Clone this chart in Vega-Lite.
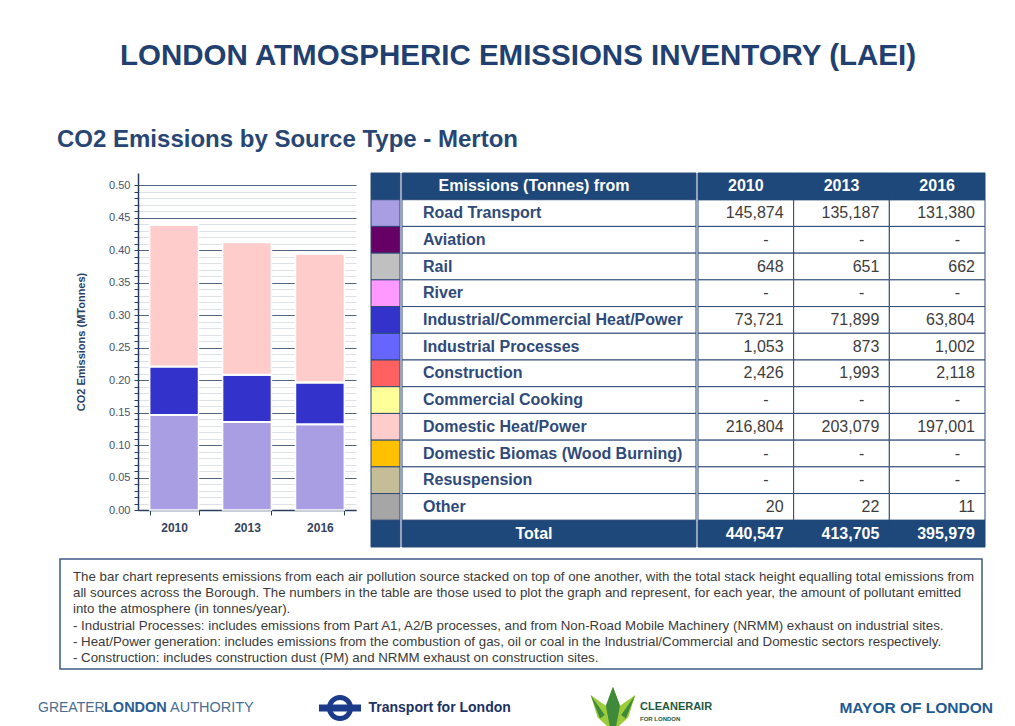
{
  "$schema": "https://vega.github.io/schema/vega-lite/v6.json",
  "background": "white",
  "padding": {"left": 38, "top": 41, "right": 0, "bottom": 0},
  "config": {"view": {"stroke": null}, "font": "Liberation Sans"},
  "title": {"text": "LONDON ATMOSPHERIC EMISSIONS INVENTORY (LAEI)", "fontSize": 29.5, "fontWeight": "bold", "color": "#1f4070", "anchor": "middle", "offset": 56, "font": "Liberation Sans"},
  "spacing": 10,
  "datasets": {
    "emissions": [
      {"source": "Road Transport", "year": "2010", "tonnes": 145874},
      {"source": "Road Transport", "year": "2013", "tonnes": 135187},
      {"source": "Road Transport", "year": "2016", "tonnes": 131380},
      {"source": "Aviation", "year": "2010", "tonnes": null},
      {"source": "Aviation", "year": "2013", "tonnes": null},
      {"source": "Aviation", "year": "2016", "tonnes": null},
      {"source": "Rail", "year": "2010", "tonnes": 648},
      {"source": "Rail", "year": "2013", "tonnes": 651},
      {"source": "Rail", "year": "2016", "tonnes": 662},
      {"source": "River", "year": "2010", "tonnes": null},
      {"source": "River", "year": "2013", "tonnes": null},
      {"source": "River", "year": "2016", "tonnes": null},
      {"source": "Industrial/Commercial Heat/Power", "year": "2010", "tonnes": 73721},
      {"source": "Industrial/Commercial Heat/Power", "year": "2013", "tonnes": 71899},
      {"source": "Industrial/Commercial Heat/Power", "year": "2016", "tonnes": 63804},
      {"source": "Industrial Processes", "year": "2010", "tonnes": 1053},
      {"source": "Industrial Processes", "year": "2013", "tonnes": 873},
      {"source": "Industrial Processes", "year": "2016", "tonnes": 1002},
      {"source": "Construction", "year": "2010", "tonnes": 2426},
      {"source": "Construction", "year": "2013", "tonnes": 1993},
      {"source": "Construction", "year": "2016", "tonnes": 2118},
      {"source": "Commercial Cooking", "year": "2010", "tonnes": null},
      {"source": "Commercial Cooking", "year": "2013", "tonnes": null},
      {"source": "Commercial Cooking", "year": "2016", "tonnes": null},
      {"source": "Domestic Heat/Power", "year": "2010", "tonnes": 216804},
      {"source": "Domestic Heat/Power", "year": "2013", "tonnes": 203079},
      {"source": "Domestic Heat/Power", "year": "2016", "tonnes": 197001},
      {"source": "Domestic Biomas (Wood Burning)", "year": "2010", "tonnes": null},
      {"source": "Domestic Biomas (Wood Burning)", "year": "2013", "tonnes": null},
      {"source": "Domestic Biomas (Wood Burning)", "year": "2016", "tonnes": null},
      {"source": "Resuspension", "year": "2010", "tonnes": null},
      {"source": "Resuspension", "year": "2013", "tonnes": null},
      {"source": "Resuspension", "year": "2016", "tonnes": null},
      {"source": "Other", "year": "2010", "tonnes": 20},
      {"source": "Other", "year": "2013", "tonnes": 22},
      {"source": "Other", "year": "2016", "tonnes": 11}
    ],
    "totals": [
      {"year": "2010", "tonnes": 440547},
      {"year": "2013", "tonnes": 413705},
      {"year": "2016", "tonnes": 395979}
    ],
    "rows": [
      {"row": "Emissions (Tonnes) from", "kind": "header"},
      {"row": "Road Transport", "kind": "source"},
      {"row": "Aviation", "kind": "source"},
      {"row": "Rail", "kind": "source"},
      {"row": "River", "kind": "source"},
      {"row": "Industrial/Commercial Heat/Power", "kind": "source"},
      {"row": "Industrial Processes", "kind": "source"},
      {"row": "Construction", "kind": "source"},
      {"row": "Commercial Cooking", "kind": "source"},
      {"row": "Domestic Heat/Power", "kind": "source"},
      {"row": "Domestic Biomas (Wood Burning)", "kind": "source"},
      {"row": "Resuspension", "kind": "source"},
      {"row": "Other", "kind": "source"},
      {"row": "Total", "kind": "total"}
    ],
    "notes": [
      {"line": 1, "text": "The bar chart represents emissions from each air pollution source stacked on top of one another, with the total stack height equalling total emissions from"},
      {"line": 2, "text": "all sources across the Borough. The numbers in the table are those used to plot the graph and represent, for each year, the amount of pollutant emitted"},
      {"line": 3, "text": "into the atmosphere (in tonnes/year)."},
      {"line": 4, "text": " - Industrial Processes:  includes emissions from Part A1, A2/B processes, and from Non-Road Mobile Machinery (NRMM) exhaust on industrial sites."},
      {"line": 5, "text": " - Heat/Power generation: includes emissions from the combustion of gas, oil or coal in the Industrial/Commercial and Domestic sectors respectively."},
      {"line": 6, "text": " - Construction: includes construction dust (PM) and NRMM exhaust on construction sites."}
    ],
    "orgs": [
      {"org": "GLA"},
      {"org": "TfL"},
      {"org": "CleanAir"},
      {"org": "Mayor"}
    ],
    "empty": []
  },
  "vconcat": [
    {
      "title": {"text": "CO2 Emissions by Source Type - Merton", "anchor": "start", "fontSize": 24, "fontWeight": "bold", "color": "#274674", "offset": 21, "dx": -3, "font": "Liberation Sans"},
      "spacing": 14,
      "resolve": {"scale": {"x": "independent", "y": "independent", "color": "independent", "fill": "independent"}},
      "hconcat": [
        {
          "width": 1,
          "height": 337,
          "data": {"name": "empty"},
          "mark": {"type": "point"},
          "encoding": {}
        },
        {
          "width": 218,
          "height": 337,
          "data": {"name": "emissions"},
          "mark": {"type": "bar", "stroke": "white", "strokeWidth": 1.5},
          "encoding": {
            "x": {"field": "year", "type": "nominal", "scale": {"paddingInner": 0.33, "paddingOuter": 0.16},
              "axis": {"title": null, "labelAngle": 0, "labelFontSize": 12, "labelFontWeight": "bold", "labelColor": "#34445f", "tickBand": "extent", "tickSize": 5, "tickColor": "#2c3e5e", "domainColor": "#2c3e5e", "domainWidth": 1.5, "labelPadding": 7}},
            "y": {"field": "tonnes", "type": "quantitative", "stack": "zero", "scale": {"domain": [0, 518500], "nice": false},
              "axis": {"title": "CO2 Emissions (MTonnes)", "titleFontSize": 11, "titleFontWeight": "bold", "titleColor": "#2b3f66", "titlePadding": 22,
                "values": [0, 10000, 20000, 30000, 40000, 50000, 60000, 70000, 80000, 90000, 100000, 110000, 120000, 130000, 140000, 150000, 160000, 170000, 180000, 190000, 200000, 210000, 220000, 230000, 240000, 250000, 260000, 270000, 280000, 290000, 300000, 310000, 320000, 330000, 340000, 350000, 360000, 370000, 380000, 390000, 400000, 410000, 420000, 430000, 440000, 450000, 460000, 470000, 480000, 490000, 500000],
                "labelExpr": "datum.value % 50000 === 0 ? format(datum.value / 1000000, '.2f') : ''",
                "labelOverlap": false, "labelFontSize": 11, "labelColor": "#44536d", "labelPadding": 4,
                "tickSize": 4, "tickColor": "#2c3e5e", "domainColor": "#2c3e5e", "domainWidth": 1.5,
                "grid": true, "gridWidth": 1,
                "gridColor": {"condition": {"test": "datum.value % 50000 === 0", "value": "#52657f"}, "value": "#dde2e9"}}},
            "color": {"field": "source", "type": "nominal",
              "sort": ["Road Transport", "Aviation", "Rail", "River", "Industrial/Commercial Heat/Power", "Industrial Processes", "Construction", "Commercial Cooking", "Domestic Heat/Power", "Domestic Biomas (Wood Burning)", "Resuspension", "Other"],
              "scale": {"domain": ["Road Transport", "Aviation", "Rail", "River", "Industrial/Commercial Heat/Power", "Industrial Processes", "Construction", "Commercial Cooking", "Domestic Heat/Power", "Domestic Biomas (Wood Burning)", "Resuspension", "Other"],
                "range": ["#a99de4", "#660066", "#c0c0c0", "#ff99ff", "#3333cc", "#6666ff", "#ff6161", "#ffff99", "#ffcccc", "#ffc000", "#c4bd97", "#a6a6a6"]},
              "legend": null}
          }
        },
        {
          "spacing": 0,
          "resolve": {"scale": {"x": "independent", "y": "independent", "fill": "independent"}},
          "hconcat": [
            {
              "width": 29,
              "height": 374,
              "data": {"name": "rows"},
              "mark": {"type": "rect", "stroke": "#2c4a78", "strokeWidth": 1},
              "encoding": {
                "y": {"field": "row", "type": "nominal", "sort": null,
                  "scale": {"domain": ["Emissions (Tonnes) from", "Road Transport", "Aviation", "Rail", "River", "Industrial/Commercial Heat/Power", "Industrial Processes", "Construction", "Commercial Cooking", "Domestic Heat/Power", "Domestic Biomas (Wood Burning)", "Resuspension", "Other", "Total"], "paddingInner": 0, "paddingOuter": 0},
                  "axis": null},
                "fill": {"field": "row", "type": "nominal",
                  "scale": {"domain": ["Emissions (Tonnes) from", "Road Transport", "Aviation", "Rail", "River", "Industrial/Commercial Heat/Power", "Industrial Processes", "Construction", "Commercial Cooking", "Domestic Heat/Power", "Domestic Biomas (Wood Burning)", "Resuspension", "Other", "Total"],
                    "range": ["#1e477a", "#a99de4", "#660066", "#c0c0c0", "#ff99ff", "#3333cc", "#6666ff", "#ff6161", "#ffff99", "#ffcccc", "#ffc000", "#c4bd97", "#a6a6a6", "#1e477a"]},
                  "legend": null}
              }
            },
            {
              "width": 294,
              "height": 374,
              "data": {"name": "rows"},
              "encoding": {
                "y": {"field": "row", "type": "nominal", "sort": null,
                  "scale": {"domain": ["Emissions (Tonnes) from", "Road Transport", "Aviation", "Rail", "River", "Industrial/Commercial Heat/Power", "Industrial Processes", "Construction", "Commercial Cooking", "Domestic Heat/Power", "Domestic Biomas (Wood Burning)", "Resuspension", "Other", "Total"], "paddingInner": 0, "paddingOuter": 0},
                  "axis": null}
              },
              "layer": [
                {"mark": {"type": "rect", "stroke": "#2c4a78", "strokeWidth": 1},
                  "encoding": {"fill": {"condition": {"test": "datum.kind !== 'source'", "value": "#1e477a"}, "value": "white"}}},
                {"transform": [{"filter": "datum.kind === 'source'"}],
                  "mark": {"type": "text", "align": "left", "dx": -126, "fontSize": 16, "fontWeight": "bold", "color": "#2f4a7a"},
                  "encoding": {"text": {"field": "row"}}},
                {"transform": [{"filter": "datum.kind !== 'source'"}],
                  "mark": {"type": "text", "align": "center", "dx": -15, "fontSize": 16, "fontWeight": "bold", "color": "white"},
                  "encoding": {"text": {"field": "row"}}}
              ]
            },
            {
              "width": 287,
              "height": 374,
              "layer": [
                {"data": {"name": "emissions"},
                  "mark": {"type": "rect", "fill": "white", "stroke": "#2c4a78", "strokeWidth": 1},
                  "encoding": {
                    "x": {"field": "year", "type": "nominal", "scale": {"domain": ["2010", "2013", "2016"], "paddingInner": 0, "paddingOuter": 0}, "axis": null},
                    "y": {"field": "source", "type": "nominal", "sort": null,
                      "scale": {"domain": ["Emissions (Tonnes) from", "Road Transport", "Aviation", "Rail", "River", "Industrial/Commercial Heat/Power", "Industrial Processes", "Construction", "Commercial Cooking", "Domestic Heat/Power", "Domestic Biomas (Wood Burning)", "Resuspension", "Other", "Total"], "paddingInner": 0, "paddingOuter": 0},
                      "axis": null}}},
                {"data": {"name": "totals"},
                  "mark": {"type": "rect", "fill": "#1e477a", "stroke": "#1e477a", "strokeWidth": 1},
                  "encoding": {"x": {"field": "year", "type": "nominal"}, "y": {"datum": "Emissions (Tonnes) from", "type": "nominal"}}},
                {"data": {"name": "totals"},
                  "mark": {"type": "rect", "fill": "#1e477a", "stroke": "#1e477a", "strokeWidth": 1},
                  "encoding": {"x": {"field": "year", "type": "nominal"}, "y": {"datum": "Total", "type": "nominal"}}},
                {"data": {"name": "emissions"},
                  "transform": [{"filter": "isValid(datum.tonnes)"}],
                  "mark": {"type": "text", "align": "right", "dx": -10, "fontSize": 16, "color": "#3d3d3d"},
                  "encoding": {"x": {"field": "year", "type": "nominal", "bandPosition": 1}, "y": {"field": "source", "type": "nominal"}, "text": {"field": "tonnes", "type": "quantitative", "format": ","}}},
                {"data": {"name": "emissions"},
                  "transform": [{"filter": "!isValid(datum.tonnes)"}],
                  "mark": {"type": "text", "align": "right", "dx": -25, "fontSize": 16, "color": "#3d3d3d", "text": "-"},
                  "encoding": {"x": {"field": "year", "type": "nominal", "bandPosition": 1}, "y": {"field": "source", "type": "nominal"}}},
                {"data": {"name": "totals"},
                  "mark": {"type": "text", "align": "center", "fontSize": 16, "fontWeight": "bold", "color": "white"},
                  "encoding": {"x": {"field": "year", "type": "nominal", "bandPosition": 0.5}, "y": {"datum": "Emissions (Tonnes) from", "type": "nominal"}, "text": {"field": "year"}}},
                {"data": {"name": "totals"},
                  "mark": {"type": "text", "align": "right", "dx": -10, "fontSize": 16, "fontWeight": "bold", "color": "white"},
                  "encoding": {"x": {"field": "year", "type": "nominal", "bandPosition": 1}, "y": {"datum": "Total", "type": "nominal"}, "text": {"field": "tonnes", "type": "quantitative", "format": ","}}}
              ]
            }
          ]
        }
      ]
    },
    {
      "width": 922,
      "height": 110,
      "view": {"stroke": "#3b5b86", "strokeWidth": 1.5},
      "data": {"name": "notes"},
      "mark": {"type": "text", "align": "left", "dx": -448, "fontSize": 13.3, "color": "#3a3a3a"},
      "encoding": {
        "y": {"field": "line", "type": "ordinal", "scale": {"type": "point", "padding": 0.9, "align": 0.62}, "axis": null},
        "text": {"field": "text"}
      }
    },
    {
      "width": 938,
      "height": 56,
      "data": {"name": "orgs"},
      "layer": [
        {"transform": [{"filter": "datum.org === 'GLA'"}],
          "mark": {"type": "text", "align": "left", "dx": -22, "fontSize": 14, "color": "#4a6d92", "text": "GREATER"},
          "encoding": {"x": {"field": "org", "type": "nominal", "bandPosition": 0, "scale": {"type": "band", "domain": ["GLA", "TfL", "CleanAir", "Mayor"], "paddingInner": 0, "paddingOuter": 0}, "axis": null}}},
        {"transform": [{"filter": "datum.org === 'GLA'"}],
          "mark": {"type": "text", "align": "left", "dx": 44, "fontSize": 14.5, "fontWeight": "bold", "color": "#2a5d93", "text": "LONDON"},
          "encoding": {"x": {"field": "org", "type": "nominal", "bandPosition": 0}}},
        {"transform": [{"filter": "datum.org === 'GLA'"}],
          "mark": {"type": "text", "align": "left", "dx": 110, "fontSize": 14.5, "color": "#4a6d92", "text": "AUTHORITY"},
          "encoding": {"x": {"field": "org", "type": "nominal", "bandPosition": 0}}},
        {"transform": [{"filter": "datum.org === 'TfL'"}],
          "mark": {"type": "point", "shape": "circle", "filled": false, "size": 441, "strokeWidth": 5, "color": "#1b3a8a", "opacity": 1},
          "encoding": {"x": {"field": "org", "type": "nominal", "bandPosition": 0.194}}},
        {"transform": [{"filter": "datum.org === 'TfL'"}],
          "mark": {"type": "point", "shape": "M-1,-0.167H1V0.167H-1Z", "filled": true, "size": 1764, "color": "#1b3a8a", "opacity": 1, "strokeWidth": 0},
          "encoding": {"x": {"field": "org", "type": "nominal", "bandPosition": 0.194}}},
        {"transform": [{"filter": "datum.org === 'TfL'"}],
          "mark": {"type": "text", "align": "left", "dx": 74, "fontSize": 14, "fontWeight": "bold", "color": "#1c3264", "text": "Transport for London"},
          "encoding": {"x": {"field": "org", "type": "nominal", "bandPosition": 0}}},
        {"transform": [{"filter": "datum.org === 'CleanAir'"}],
          "mark": {"type": "point", "shape": "M0,-0.9L0.3,-0.1L0.95,-0.55L0.65,0.4L0.1,0.9L-0.1,0.9L-0.65,0.4L-0.95,-0.55L-0.3,-0.1Z", "filled": true, "size": 2209, "color": "#9ccb3b", "opacity": 1, "strokeWidth": 0},
          "encoding": {"x": {"field": "org", "type": "nominal", "bandPosition": 0.358}}},
        {"transform": [{"filter": "datum.org === 'CleanAir'"}],
          "mark": {"type": "point", "shape": "M0,-0.9L0.3,-0.1L0.12,0.85L-0.12,0.85L-0.3,-0.1Z M-0.95,-0.55L-0.35,0.3L-0.55,0.45Z M0.95,-0.55L0.35,0.3L0.55,0.45Z", "filled": true, "size": 2209, "color": "#3f8a3a", "opacity": 1, "strokeWidth": 0},
          "encoding": {"x": {"field": "org", "type": "nominal", "bandPosition": 0.358}}},
        {"transform": [{"filter": "datum.org === 'CleanAir'"}],
          "mark": {"type": "text", "align": "left", "dx": 111, "dy": -1, "fontSize": 11, "fontWeight": "bold", "color": "#1f5a3f", "text": "CLEANERAIR"},
          "encoding": {"x": {"field": "org", "type": "nominal", "bandPosition": 0}}},
        {"transform": [{"filter": "datum.org === 'CleanAir'"}],
          "mark": {"type": "text", "align": "left", "dx": 111, "dy": 11, "fontSize": 6, "fontWeight": "bold", "color": "#1f5a3f", "text": "FOR LONDON"},
          "encoding": {"x": {"field": "org", "type": "nominal", "bandPosition": 0}}},
        {"transform": [{"filter": "datum.org === 'Mayor'"}],
          "mark": {"type": "text", "align": "right", "dx": -5, "fontSize": 15.5, "fontWeight": "bold", "color": "#1f5a94", "text": "MAYOR OF LONDON"},
          "encoding": {"x": {"field": "org", "type": "nominal", "bandPosition": 1}}}
      ]
    }
  ]
}
